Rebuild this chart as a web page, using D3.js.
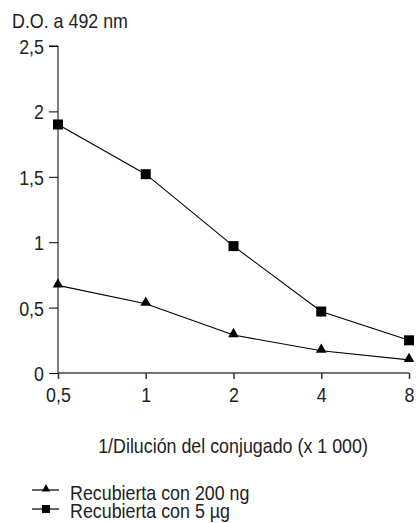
<!DOCTYPE html>
<html>
<head>
<meta charset="utf-8">
<script src="https://cdn.jsdelivr.net/npm/d3@7"></script>
<style>
  body { margin: 0; background: #fff; }
  text { font-family: "Liberation Sans", Arial, sans-serif; fill: #222; }
</style>
</head>
<body>
<svg id="chart" width="420" height="523"></svg>
<script>
// categories on the x axis (1/dilution x 1000)
const dilutions = ['0,5', '1', '2', '4', '8'];
// optical density at 492 nm
const coat200ng = [0.67, 0.53, 0.29, 0.17, 0.1];
const coat5ug = [1.9, 1.52, 0.97, 0.47, 0.25];
const yTicks = [0, 0.5, 1, 1.5, 2, 2.5];
const seriesNames = ['Recubierta con 200 ng', 'Recubierta con 5 µg'];

const FS = 21;          // font size
const SQ = 'scale(0.85,1)'; // narrow the glyphs like the condensed original

const svg = d3.select('#chart');
const x = d3.scalePoint().domain(dilutions).range([58, 409]);
const y = d3.scaleLinear().domain([0, 2.5]).range([373, 46]);
const fmt = (d) => String(d).replace('.', ',');

function label(px, py, txt, anchor) {
  return svg.append('text')
    .attr('transform', `translate(${px},${py}) ${SQ}`)
    .attr('text-anchor', anchor || 'start')
    .attr('font-size', FS)
    .text(txt);
}

// y axis
const yAxis = svg.append('g')
  .attr('transform', 'translate(58,0)')
  .call(d3.axisLeft(y).tickValues(yTicks).tickFormat(fmt).tickSize(9).tickPadding(7.5));
yAxis.select('.domain').attr('d', 'M-9,46H0V373').attr('stroke', '#000');
yAxis.selectAll('.tick line').attr('stroke', '#000');
yAxis.selectAll('.tick text').attr('font-size', FS).attr('fill', '#222')
  .attr('dy', '0.36em').attr('transform', SQ);

// x axis
const xAxis = svg.append('g')
  .attr('transform', 'translate(0,373)')
  .call(d3.axisBottom(x).tickSize(6).tickPadding(14));
xAxis.select('.domain').attr('d', 'M58,0H409').attr('stroke', '#444').attr('stroke-width', 1.5);
xAxis.selectAll('.tick line').attr('stroke', '#333').attr('stroke-width', 1.5);
xAxis.selectAll('.tick text').attr('font-size', FS).attr('fill', '#222')
  .attr('dy', '0.45em').attr('transform', SQ);

label(12, 28, 'D.O. a 492 nm');
label(233, 453, '1/Dilución del conjugado (x 1 000)', 'middle');

const line = d3.line().x((d, i) => x(dilutions[i])).y((d) => y(d));
const triangle = d3.symbol().type(d3.symbolTriangle).size(50);

svg.append('path').datum(coat5ug).attr('d', line).attr('fill', 'none').attr('stroke', '#000').attr('stroke-width', 1.1);
svg.append('path').datum(coat200ng).attr('d', line).attr('fill', 'none').attr('stroke', '#000').attr('stroke-width', 1.1);

svg.selectAll('.sq').data(coat5ug).enter().append('rect')
  .attr('x', (d, i) => x(dilutions[i]) - 5).attr('y', (d) => y(d) - 5)
  .attr('width', 10).attr('height', 10).attr('fill', '#000');
svg.selectAll('.tri').data(coat200ng).enter().append('path')
  .attr('d', triangle)
  .attr('transform', (d, i) => `translate(${x(dilutions[i])},${y(d) - 1})`)
  .attr('fill', '#000');

// legend
const legend = svg.append('g');
seriesNames.forEach((name, i) => {
  const ly = 490 + i * 19;
  legend.append('line').attr('x1', 32).attr('x2', 59).attr('y1', ly).attr('y2', ly).attr('stroke', '#000').attr('stroke-width', 1.2);
  if (i === 0) {
    legend.append('path').attr('d', d3.symbol().type(d3.symbolTriangle).size(30)).attr('transform', `translate(46,${ly - 1})`);
  } else {
    legend.append('rect').attr('x', 42).attr('y', ly - 4).attr('width', 8).attr('height', 8);
  }
  label(70, 500 + i * 18, name);
});
</script>
</body>
</html>
